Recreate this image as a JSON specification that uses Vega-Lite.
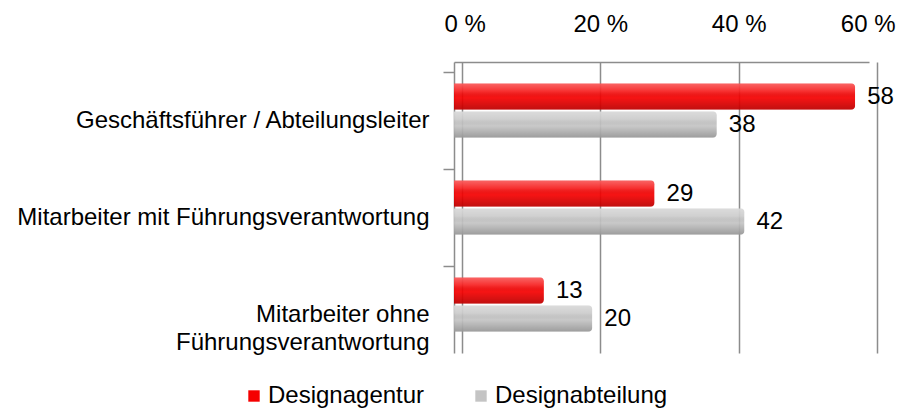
{
  "$schema": "https://vega.github.io/schema/vega-lite/v6.json",
  "width": 415,
  "height": 291,
  "autosize": {"type": "none"},
  "padding": {"left": 454, "top": 62, "right": 34, "bottom": 59},
  "background": "white",
  "config": {
    "view": {"stroke": null},
    "font": "Liberation Sans",
    "axis": {"labelFont": "Liberation Sans", "labelColor": "#000000", "labelFontSize": 24},
    "legend": {"labelFont": "Liberation Sans", "labelColor": "#000000", "labelFontSize": 24}
  },
  "data": {
    "values": [
      {"category": "Geschäftsführer / Abteilungsleiter", "series": "Designagentur", "value": 58},
      {"category": "Geschäftsführer / Abteilungsleiter", "series": "Designabteilung", "value": 38},
      {"category": "Mitarbeiter mit Führungsverantwortung", "series": "Designagentur", "value": 29},
      {"category": "Mitarbeiter mit Führungsverantwortung", "series": "Designabteilung", "value": 42},
      {"category": "Mitarbeiter ohne Führungsverantwortung", "series": "Designagentur", "value": 13},
      {"category": "Mitarbeiter ohne Führungsverantwortung", "series": "Designabteilung", "value": 20}
    ]
  },
  "encoding": {
    "y": {
      "field": "category",
      "type": "nominal",
      "sort": null,
      "title": null,
      "scale": {"paddingInner": 0.44, "paddingOuter": 0.22},
      "axis": {
        "orient": "left",
        "domainColor": "#8c8c8c",
        "domainWidth": 1.5,
        "tickColor": "#8c8c8c",
        "tickWidth": 1.5,
        "tickSize": 11,
        "bandPosition": 0,
        "tickOffset": -11,
        "labelOffset": 21,
        "labelPadding": 14,
        "labelLineHeight": 28,
        "labelLimit": 0,
        "labelExpr": "datum.label == 'Mitarbeiter ohne Führungsverantwortung' ? ['Mitarbeiter ohne', 'Führungsverantwortung'] : datum.label"
      }
    },
    "yOffset": {
      "field": "series",
      "type": "nominal",
      "sort": ["Designagentur", "Designabteilung"],
      "scale": {"paddingInner": 0.06}
    },
    "x": {
      "field": "value",
      "type": "quantitative",
      "title": null,
      "scale": {"domain": [0, 60], "nice": false},
      "axis": {
        "orient": "top",
        "values": [0, 20, 40, 60],
        "labelExpr": "datum.value + ' %'",
        "ticks": false,
        "tickSize": 0,
        "tickOffset": 8,
        "labelPadding": 26,
        "labelFlush": true,
        "labelFlushOffset": 18,
        "domainColor": "#8c8c8c",
        "domainWidth": 1.5,
        "grid": true,
        "gridColor": "#8c8c8c",
        "gridWidth": 1.5
      }
    }
  },
  "layer": [
    {
      "mark": {"type": "bar", "cornerRadiusEnd": 4, "opacity": 0.92},
      "encoding": {
        "color": {
          "field": "series",
          "type": "nominal",
          "title": null,
          "scale": {"domain": ["Designagentur", "Designabteilung"], "range": ["#f50000", "#c4c4c4"]},
          "legend": {
            "orient": "none",
            "legendX": -212,
            "legendY": 322,
            "direction": "horizontal",
            "symbolType": "square",
            "symbolSize": 130,
            "symbolOpacity": 1,
            "labelOffset": 2,
            "labelLimit": 0,
            "columnPadding": 44
          }
        }
      }
    },
    {
      "mark": {
        "type": "bar",
        "cornerRadiusEnd": 4,
        "fill": {
          "gradient": "linear",
          "x1": 0, "y1": 0, "x2": 0, "y2": 1,
          "stops": [
            {"offset": 0, "color": "rgba(255,255,255,0.35)"},
            {"offset": 0.3, "color": "rgba(255,255,255,0.12)"},
            {"offset": 0.55, "color": "rgba(0,0,0,0.0)"},
            {"offset": 1, "color": "rgba(0,0,0,0.22)"}
          ]
        }
      },
      "encoding": {}
    },
    {
      "mark": {"type": "text", "align": "left", "baseline": "middle", "dx": 12, "fontSize": 24, "color": "#000000"},
      "encoding": {"text": {"field": "value", "type": "quantitative"}}
    }
  ]
}
